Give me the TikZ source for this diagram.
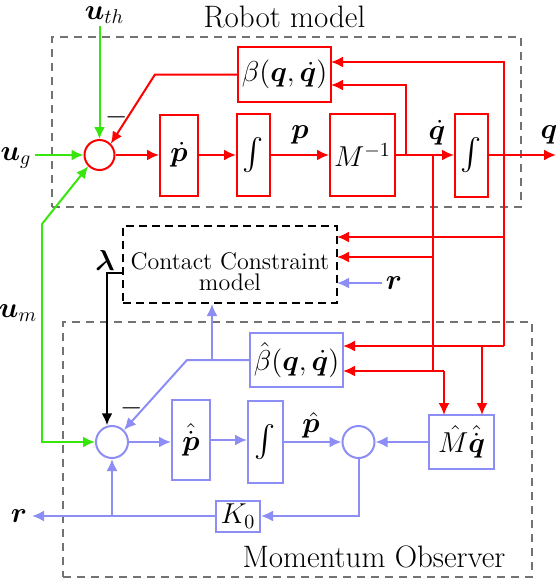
\documentclass[tikz,border=0pt]{standalone}
\usepackage{amsmath,bm}
\usepackage{graphicx}
\usetikzlibrary{arrows.meta}
\definecolor{rd}{RGB}{255,0,0}
\definecolor{gn}{RGB}{55,230,10}
\definecolor{bl}{RGB}{140,142,245}
\definecolor{gr}{RGB}{115,115,115}
\begin{document}
\begin{tikzpicture}[x=0.5pt,y=-0.5pt, line width=1pt,
  >={Latex[length=6pt,width=5.5pt]},
  every node/.append style={font=\fontsize{14.4}{16}\selectfont},
  blk/.style={draw, rectangle, inner sep=0pt, line width=1pt},
  rbox/.style={blk, draw=rd},
  bbox/.style={blk, draw=bl},
  sumr/.style={circle, draw=rd, minimum size=15pt, inner sep=0pt, line width=1pt},
  sumb/.style={circle, draw=bl, minimum size=16pt, inner sep=0pt, line width=1pt},
  frame/.style={draw=gr, dash pattern=on 4pt off 3pt, line width=0.9pt, rectangle, inner sep=0pt},
  ccbox/.style={draw=black, dash pattern=on 4pt off 2.5pt, line width=1pt, rectangle, inner sep=0pt},
  lbl/.style={inner sep=0pt},
  ttl/.style={inner sep=0pt, font=\fontsize{15.5}{17}\selectfont},
  rl/.style={rd, ->}, bll/.style={bl, ->}, gl/.style={gn, ->}
]
\useasboundingbox (0,0) rectangle (557,579);

% frames
\node[frame, minimum width=234.5pt, minimum height=85pt] (RM) at (286.5,122) {};
\node[frame, minimum width=234.5pt, minimum height=127.5pt] (MO) at (297.5,449.5) {};
\node[ttl, anchor=base] (RMt) at (284.5,27) {Robot model};
\node[ttl, anchor=base] (MOt) at (374,567) {Momentum Observer};

% robot model blocks
\node[sumr] (C1) at (99.5,155) {};
\node[rbox, minimum width=19pt, minimum height=40.5pt] (P1) at (179,155) {$\dot{\bm p}$};
\node[rbox, minimum width=16.5pt, minimum height=41pt] (I1) at (253.5,155) {\scalebox{1.1}{$\int$}};
\node[rbox, minimum width=32.5pt, minimum height=41pt] (M1) at (362.5,155) {$M^{-1}$};
\node[rbox, minimum width=16.5pt, minimum height=41.5pt] (I2) at (471.5,155) {\scalebox{1.1}{$\int$}};
\node[rbox, minimum width=46.5pt, minimum height=27.5pt] (B1) at (284.5,74.5) {$\beta(\bm q,\dot{\bm q})$};

% contact constraint
\node[ccbox, minimum width=107pt, minimum height=38.5pt] (CC) at (230,264.5) {};
\node[lbl, align=center, font=\fontsize{12}{10.5}\selectfont] (CCt) at (230,272) {Contact Constraint\\model};

% observer blocks
\node[sumb] (C2) at (112,442) {};
\node[bbox, minimum width=19pt, minimum height=40pt] (P2) at (191,440) {$\hat{\dot{\bm p}}$};
\node[bbox, minimum width=17.5pt, minimum height=41pt] (I3) at (265.5,442) {\scalebox{1.1}{$\int$}};
\node[sumb] (C3) at (358.5,442) {};
\node[bbox, minimum width=32.5pt, minimum height=27pt] (M2) at (461.5,442) {$\hat{M}\hat{\dot{\bm q}}$};
\node[bbox, minimum width=22pt, minimum height=15.5pt] (K0) at (238,516) {$K_0$};
\node[bbox, minimum width=46.5pt, minimum height=27pt] (B2) at (296.5,360) {$\hat{\beta}(\bm q,\dot{\bm q})$};

% labels
\node[lbl] (luth) at (104.5,15) {$\bm{u}_{th}$};
\node[lbl] (lug) at (16,158) {$\bm{u}_g$};
\node[lbl] (lum) at (18,313) {$\bm{u}_m$};
\node[lbl] (lp) at (300,135) {$\bm p$};
\node[lbl] (lqd) at (437,133) {$\dot{\bm q}$};
\node[lbl] (lq) at (549,135) {$\bm q$};
\node[lbl] (llam) at (105,260) {$\bm\lambda$};
\node[lbl] (lr1) at (394,283) {$\bm r$};
\node[lbl] (lr2) at (19,516) {$\bm r$};
\node[lbl] (lph) at (311,425) {$\hat{\bm p}$};
\node[lbl] (mn1) at (117,117) {$-$};
\node[lbl] (mn2) at (132,408) {$-$};

% coordinates
\coordinate (uth) at (99.5,26);
\coordinate (ug) at (35,155);
\coordinate (gc) at (42,224);
\coordinate (j1) at (406,155);
\coordinate (j2) at (433,155);
\coordinate (k2) at (433,371);
\coordinate (b1a) at (331,62);
\coordinate (b1b) at (331,85);
\coordinate (r1bot) at (504,346);
\coordinate (t1) at (504,237);
\coordinate (t2) at (433,257);
\coordinate (cc1) at (337,237);
\coordinate (cc2) at (337,257);
\coordinate (cc3) at (337,283);
\coordinate (b2a) at (343,346);
\coordinate (b2b) at (343,371);
\coordinate (k3) at (482,346);
\coordinate (k4) at (444,371);
\coordinate (m2a) at (482,415);
\coordinate (m2b) at (444,415);
\coordinate (qout) at (556,155);
\coordinate (bk) at (155,74.5);
\coordinate (bkb) at (187,360);
\coordinate (bu) at (212,360);
\coordinate (rin) at (382,283);
\coordinate (rout) at (32,516);
\coordinate (kb) at (112,516);
\coordinate (ccl) at (123,273);
\coordinate (lam) at (107,273);

% red connectors
\draw[rl] (C1.east) -- (P1.west);
\draw[rl] (P1.east) -- (I1.west);
\draw[rl] (I1.east) -- (M1.west);
\draw[rl] (M1.east) -- (I2.west);
\draw[rl] (I2.east) -- (qout);
\draw[rl] (B1.west) -- (bk) -- (C1.north east);
\draw[rl] (j1) |- (b1b);
\draw[rl] (r1bot) |- (b1a);
\draw[rd] (j2) -- (k2);
\draw[rl] (t1) -- (cc1);
\draw[rl] (t2) -- (cc2);
\draw[rl] (r1bot) -- (b2a);
\draw[rl] (k3) -- (m2a);
\draw[rl] (k4) -- (b2b);
\draw[rl] (k4) -- (m2b);

% green connectors
\draw[gl] (uth) -- (C1.north);
\draw[gl] (ug) -- (C1.west);
\draw[gl] (gc) -- (C1.south west);
\draw[gl] (gc) |- (C2.west);

% blue connectors
\draw[bll] (C2.east) -- (C2.east -| P2.west);
\draw[bll] (P2.east) -- (P2.east -| I3.west);
\draw[bll] (I3.east) -- (C3.west);
\draw[bll] (M2.west) -- (C3.east);
\draw[bll] (C3.south) |- (K0.east);
\draw[bll] (K0.west) -- (rout);
\draw[bll] (kb) -- (C2.south);
\draw[bll] (B2.west) -- (bkb) -- (C2.north east);
\draw[bll] (bu) -- (bu |- CC.south);
\draw[bll] (rin) -- (cc3);

% black connector
\draw[->] (ccl) -- (lam) -- (lam |- C2.100);
\end{tikzpicture}
\end{document}
